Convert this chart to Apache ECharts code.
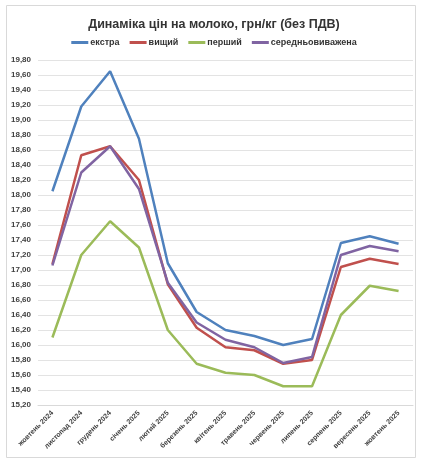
<!DOCTYPE html>
<html>
<head>
<meta charset="utf-8">
<script src="https://cdn.jsdelivr.net/npm/echarts@6/dist/echarts.min.js"></script>
<style>
html,body{margin:0;padding:0;background:#fff;}
#c{width:428px;height:461px;}
</style>
</head>
<body>
<div id="c"></div>
<script>
const categories = ['жовтень 2024','листопад 2024','грудень 2024','січень 2025','лютий 2025','березень 2025','квітень 2025','травень 2025','червень 2025','липень 2025','серпень 2025','вересень 2025','жовтень 2025'];
const ekstra = [18.05,19.18,19.65,18.75,17.09,16.44,16.20,16.12,16.00,16.08,17.36,17.45,17.35];
const vyshchyi = [17.08,18.53,18.65,18.20,16.81,16.23,15.97,15.93,15.75,15.80,17.04,17.15,17.08];
const pershyi = [16.10,17.20,17.65,17.30,16.20,15.75,15.63,15.60,15.45,15.45,16.40,16.79,16.72];
const serednio = [17.06,18.30,18.65,18.08,16.83,16.30,16.07,15.97,15.76,15.84,17.20,17.32,17.25];
const seriesNames = ['екстра','вищий','перший','середньовиважена'];
const yMin = 15.2, yMax = 19.8, yStep = 0.2;

const colors = ['#4F81BD','#C0504D','#9BBB59','#8064A2'];
const font = 'Liberation Sans, Arial, sans-serif';
const chart = echarts.init(document.getElementById('c'), null, {renderer:'canvas'});
const mk = (name, data, i) => ({
  name, type:'line', data, symbol:'none', smooth:false,
  lineStyle:{width:2.5, color:colors[i]}, itemStyle:{color:colors[i]}
});
chart.setOption({
  animation:false,
  color: colors,
  graphic:[{type:'rect', shape:{x:6.5,y:5.5,width:409,height:452}, style:{fill:'none', stroke:'#d9d9d9', lineWidth:1}, silent:true}],
  title:{text:'Динаміка цін на молоко, грн/кг (без ПДВ)', left:'center', top:13,
    textStyle:{fontFamily:font, fontSize:12.5, fontWeight:'bold', color:'#333'}},
  legend:{top:33, left:'center', icon:'rect', itemWidth:17, itemHeight:3, itemGap:10,
    textStyle:{fontFamily:font, fontSize:9, fontWeight:'bold', color:'#333', padding:[0,0,0,-3]},
    data: seriesNames},
  grid:{left:38, right:15, top:60, bottom:56},
  xAxis:{type:'category', data:categories, boundaryGap:true,
    axisLine:{lineStyle:{color:'#d9d9d9'}}, axisTick:{show:false},
    axisLabel:{rotate:45, interval:0, fontFamily:font, fontSize:7, fontWeight:'bold', color:'#404040', margin:7}},
  yAxis:{type:'value', min:yMin, max:yMax, interval:yStep,
    axisLine:{show:false}, axisTick:{show:false},
    splitLine:{lineStyle:{color:'#e3e3e3', width:1}},
    axisLabel:{fontFamily:font, fontSize:8, fontWeight:'bold', color:'#404040', margin:7,
      formatter:v=>v.toFixed(2).replace('.',',')}},
  series:[mk(seriesNames[0], ekstra,0), mk(seriesNames[1], vyshchyi,1), mk(seriesNames[2], pershyi,2), mk(seriesNames[3], serednio,3)]
});
</script>
</body>
</html>
